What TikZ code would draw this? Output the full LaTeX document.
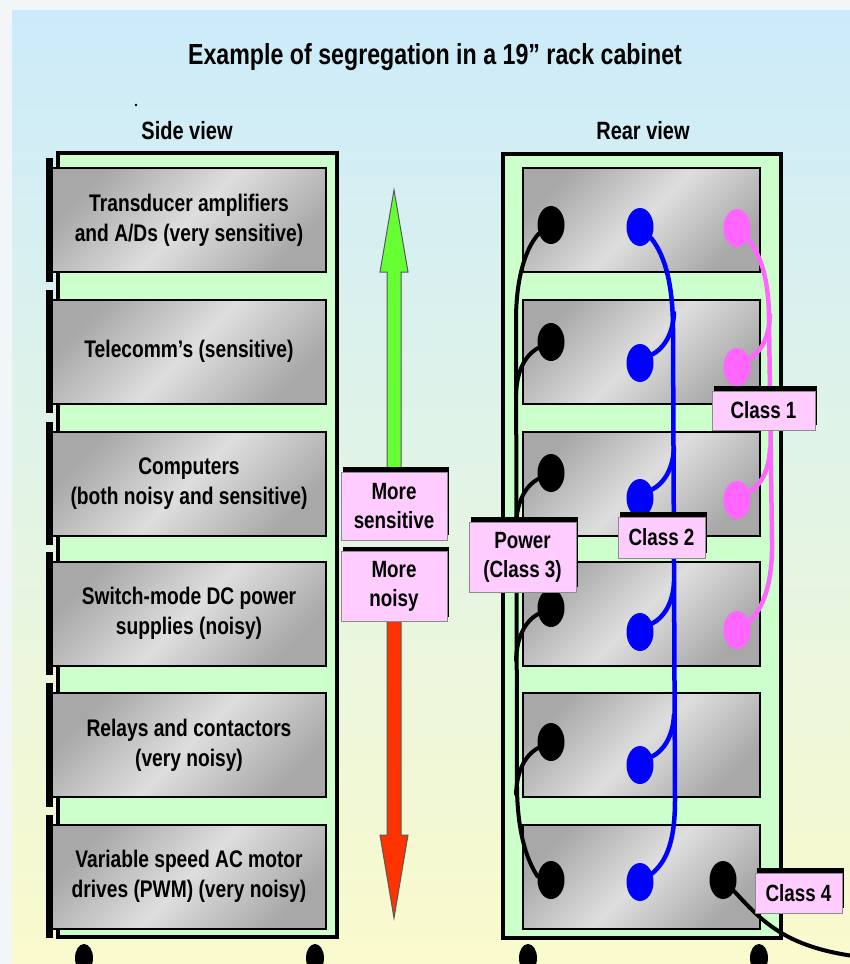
\documentclass[tikz,border=0pt]{standalone}
\usepackage{fontspec}
\setmainfont{Liberation Sans}[FakeStretch=0.8]
\usetikzlibrary{shapes.geometric,shadows}
\definecolor{bgtop}{HTML}{CCEBFA}
\definecolor{bgmid}{HTML}{E2F4E6}
\definecolor{bgbot}{HTML}{FAFACC}
\definecolor{outerbg}{HTML}{F2F6F9}
\definecolor{rackgreen}{HTML}{CCFFCC}
\definecolor{modDark}{HTML}{A8A8A8}
\definecolor{modLight}{HTML}{DEDEDE}
\definecolor{lblpink}{HTML}{FFCCFF}
\definecolor{argreen}{HTML}{66FF33}
\definecolor{arred}{HTML}{FF3300}
\definecolor{cblue}{HTML}{0000FF}
\definecolor{cpink}{HTML}{FF66FF}
\pgfdeclarelayer{back}
\pgfdeclarelayer{mid}
\pgfsetlayers{back,mid,main}
\begin{document}
\begin{tikzpicture}[x=1pt,y=-1pt,
  modbox/.style={draw=black, line width=2pt, left color=modDark, right color=modDark, middle color=modLight, shading angle=45,
    minimum height=104pt, inner sep=0pt, align=center, font=\fontsize{24}{30}\selectfont\bfseries},
  leftmod/.style={modbox, minimum width=274pt},
  rightmod/.style={modbox, minimum width=237pt},
  rackframe/.style={draw=black, line width=4pt, fill=rackgreen},
  caster/.style={fill=black, ellipse, minimum width=18pt, minimum height=28pt, inner sep=0pt},
  lbl/.style={fill=lblpink, draw=black!45, line width=1pt, align=center, inner sep=0pt,
    font=\fontsize{23.5}{29}\selectfont\bfseries,
    general shadow={fill=black, shadow xshift=2pt, shadow yshift=5pt}},
  dotn/.style={ellipse, minimum width=27pt, minimum height=38pt, inner sep=0pt},
  blackcable/.style={draw=black, line width=4pt, line cap=round},
  bluecable/.style={draw=cblue, line width=4.5pt, line cap=round},
  pinkcable/.style={draw=cpink, line width=4.5pt, line cap=round},
  arrowline/.style={draw=black!65, line width=1pt, line join=miter},
  heading/.style={font=\fontsize{25}{30}\selectfont\bfseries}
]
\useasboundingbox (0,0) rectangle (850,964);
\begin{pgfonlayer}{back}
\fill[outerbg] (0,0) rectangle (850,964);
\shade[top color=bgtop, bottom color=bgbot, middle color=bgmid] (12,10) rectangle (850,964);
\begin{scope}
\clip (0,0) rectangle (850,964);
\node[caster] (cl1) at (84,958) {};
\node[caster] (cl2) at (315,958) {};
\node[caster] (cr1) at (528,958) {};
\node[caster] (cr2) at (759,958) {};
\end{scope}
% left rack
\draw[rackframe] (58,153) rectangle (337,937);
\foreach \t/\b in {168/272,300/403,432/535,562/665,693/797,825/928}{
  \fill[black] (46,\t-10) rectangle (53,\b+10);
}
% right rack
\draw[rackframe] (503,154) rectangle (781,938);
% right modules
\node[rightmod] (r1) at (641.5,220) {};
\node[rightmod] (r2) at (641.5,351.5) {};
\node[rightmod] (r3) at (641.5,483.5) {};
\node[rightmod] (r4) at (641.5,613.5) {};
\node[rightmod] (r5) at (641.5,745) {};
\node[rightmod] (r6) at (641.5,876.5) {};
\end{pgfonlayer}

% title and headings
\node[font=\fontsize{29}{34}\selectfont\bfseries] (title) at (435,57) {Example of segregation in a 19" rack cabinet};
\fill[black] (136,105) circle (1.3);
\node[heading] (side) at (187,131) {Side view};
\node[heading] (rear) at (643,131) {Rear view};

% left modules
\node[leftmod] (m1) at (189,220) {Transducer amplifiers\\and A/Ds (very sensitive)};
\node[leftmod] (m2) at (189,351.5) {Telecomm’s (sensitive)};
\node[leftmod] (m3) at (189,483.5) {Computers\\(both noisy and sensitive)};
\node[leftmod] (m4) at (189,613.5) {Switch-mode DC power\\supplies (noisy)};
\node[leftmod] (m5) at (189,745) {Relays and contactors\\(very noisy)};
\node[leftmod] (m6) at (189,876.5) {Variable speed AC motor\\drives (PWM) (very noisy)};

% arrows
\draw[arrowline, fill=argreen] (387,472) -- (387,272) -- (380,272) -- (394,190) -- (408,272) -- (401,272) -- (401,472) -- cycle;
\draw[arrowline, fill=arred] (387,618) -- (387,835) -- (380,835) -- (394,918) -- (408,835) -- (401,835) -- (401,618) -- cycle;
\node[lbl, minimum width=106pt, minimum height=68pt] (ms) at (394,506) {More\\sensitive};
\node[lbl, minimum width=106pt, minimum height=70pt] (mn) at (394,586.5) {More\\noisy};

% connectors (dots)
\foreach \n/\y in {k1/225,k2/342,k3/473,k4/608,k5/742,k6/880}{
  \node[dotn, fill=black] (\n) at (551,\y) {};
}
\foreach \n/\y in {u1/227,u2/363,u3/498,u4/632,u5/765,u6/882}{
  \node[dotn, fill=cblue] (\n) at (640,\y) {};
}
\foreach \n/\y in {p1/228,p2/367,p3/500,p4/630}{
  \node[dotn, fill=cpink] (\n) at (737,\y) {};
}
\node[dotn, fill=black] (k7) at (723,880) {};
\coordinate (c4end) at (870,958);

\begin{pgfonlayer}{mid}
% power (black)
\draw[blackcable] (k1.-145) .. controls (524,250) and (516,282) .. (516,320) -- (517,790) .. controls (518,835) and (527,860) .. (k6.165);
\foreach \n/\y in {k2/342,k3/473,k4/608,k5/742}{
  \draw[blackcable] (\n.-155) .. controls (524,\y+14) and (517,\y+30) .. (516,\y+52);
}
% class 2 (blue)
\draw[bluecable] (u1.-45) .. controls (667,258) and (673,290) .. (673,330) -- (675,800) .. controls (675,845) and (665,862) .. (u6.35);
\foreach \n/\y in {u2/363,u3/498,u4/632,u5/765}{
  \draw[bluecable] (\n.35) .. controls (663,\y-14) and (673,\y-28) .. (674,\y-50);
}
% class 1 (pink)
\draw[pinkcable] (p1.-45) .. controls (763,258) and (769,285) .. (769,320) -- (772,540) .. controls (773,585) and (762,610) .. (p4.35);
\foreach \n/\y in {p2/367,p3/500}{
  \draw[pinkcable] (\n.35) .. controls (760,\y-14) and (769,\y-28) .. (770,\y-52);
}
% class 4
\draw[blackcable] (k7.-45) .. controls (765,925) and (790,950) .. (c4end);
\end{pgfonlayer}

% labels
\node[lbl, minimum width=103pt, minimum height=39pt] (cl1lbl) at (763.5,410.5) {Class 1};
\node[lbl, minimum width=107pt, minimum height=70pt] (pwr) at (522.5,557) {Power\\(Class 3)};
\node[lbl, minimum width=87pt, minimum height=41pt] (cl2lbl) at (661.5,537.5) {Class 2};
\node[lbl, minimum width=87pt, minimum height=40pt] (cl4lbl) at (798.5,893) {Class 4};
\end{tikzpicture}
\end{document}
